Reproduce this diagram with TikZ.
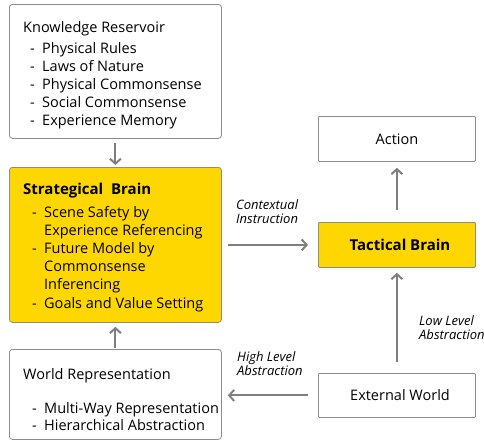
\documentclass[tikz,border=0pt]{standalone}
\usepackage{fontspec}
\setmainfont{Open Sans}
\usetikzlibrary{arrows.meta}
\definecolor{boxgray}{HTML}{8C8C8C}
\definecolor{arrgray}{HTML}{7F7F7F}
\definecolor{brainyellow}{HTML}{FFD700}
\tikzset{
  box/.style={draw=boxgray, line width=0.8pt, rounded corners=3pt, anchor=north west, inner sep=0pt},
  sqbox/.style={draw=boxgray, line width=0.8pt, rounded corners=1pt, anchor=north west, inner sep=0pt},
  yel/.style={fill=brainyellow},
  txt/.style={anchor=base west, inner sep=0pt, align=left, font=\fontsize{14.5}{18}\selectfont},
  ctxt/.style={anchor=base, inner sep=0pt, font=\fontsize{14.5}{18}\selectfont},
  lbl/.style={anchor=base west, inner sep=0pt, align=left, font=\fontsize{13}{14.5}\selectfont\itshape},
  arr/.style={draw=arrgray, line width=2pt, -{Straight Barb[length=5pt,width=11pt]}},
}
\newcommand{\dashitem}{\makebox[12pt][l]{-}}
\begin{document}
\begin{tikzpicture}[x=1pt,y=-1pt]
\useasboundingbox (0,0) rectangle (484,442);
% boxes
\node[box, minimum width=212pt, minimum height=134pt] (kr) at (9,4) {};
\node[box, yel, minimum width=212pt, minimum height=155pt] (sb) at (9,167) {};
\node[box, minimum width=212pt, minimum height=90pt] (wr) at (9,349) {};
\node[sqbox, minimum width=157pt, minimum height=45pt] (ac) at (318,116) {};
\node[sqbox, yel, minimum width=157pt, minimum height=45pt] (tb) at (318,222) {};
\node[sqbox, minimum width=157pt, minimum height=44pt] (ew) at (318,373) {};
% texts (base anchor = baseline of the last line)
\node[txt] (krt) at (23,32) {Knowledge Reservoir};
\node[txt] (kri) at (30,125) {\dashitem Physical Rules\\\dashitem Laws of Nature\\\dashitem Physical Commonsense\\\dashitem Social Commonsense\\\dashitem Experience Memory};
\node[txt, font=\fontsize{15}{18}\selectfont\bfseries] (sbt) at (23,194) {Strategical\ \ Brain};
\node[txt, font=\fontsize{14.5}{18.2}\selectfont] (sbi) at (32,308) {\dashitem Scene Safety by\\\hspace*{12pt}Experience Referencing\\\dashitem Future Model by\\\hspace*{12pt}Commonsense\\\hspace*{12pt}Inferencing\\\dashitem Goals and Value Setting};
\node[txt] (wrt) at (23,379) {World Representation};
\node[txt, font=\fontsize{14.5}{17}\selectfont] (wri) at (32,430) {\dashitem Multi-Way Representation\\\dashitem Hierarchical Abstraction};
\node[ctxt] (act) at (397,144) {Action};
\node[ctxt, font=\fontsize{15}{18}\selectfont\bfseries] (tbt) at (400,250) {Tactical Brain};
\node[ctxt] (ewt) at (400,400) {External World};
% arrows
\draw[arr, shorten <=4pt, shorten >=2pt] (kr.south) -- (sb.north);
\draw[arr, shorten <=1pt, shorten >=4pt] (wr.north) -- (sb.south);
\draw[arr, shorten <=6pt, shorten >=10pt] (sb.east |- tb.west) -- (tb.west);
\draw[arr, shorten <=12pt, shorten >=6pt] (tb.north) -- (ac.south);
\draw[arr, shorten <=11pt, shorten >=5pt] (ew.north) -- (tb.south);
\draw[arr, shorten <=10pt, shorten >=6pt] (ew.west) -- (wr.east |- ew.west);
% labels
\node[lbl] (l1) at (236,223.5) {Contextual\\Instruction};
\node[lbl] (l2) at (419,339.5) {Low Level\\Abstraction};
\node[lbl] (l3) at (237,375.5) {High Level\\Abstraction};
\end{tikzpicture}
\end{document}
